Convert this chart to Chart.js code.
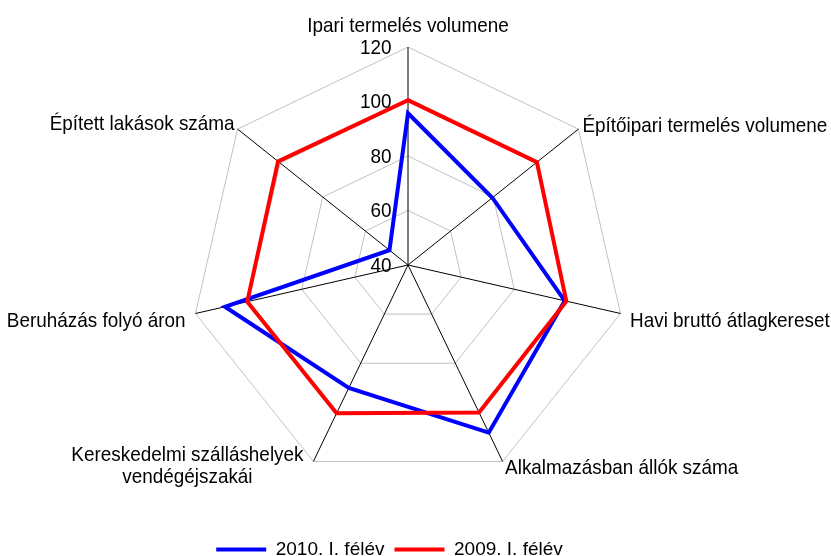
<!DOCTYPE html>
<html>
<head>
<meta charset="utf-8">
<script src="https://cdn.jsdelivr.net/npm/chart.js@4/dist/chart.umd.min.js"></script>
<style>
  html, body { margin: 0; padding: 0; background: #ffffff; }
  #wrap { width: 831px; height: 556px; }
</style>
</head>
<body>
<div id="wrap"><canvas id="c" width="831" height="556"></canvas></div>
<script>
// ---- data ----
const categories = [
  "Ipari termelés volumene",
  "Építőipari termelés volumene",
  "Havi bruttó átlagkereset",
  "Alkalmazásban állók száma",
  ["Kereskedelmi szálláshelyek", "vendégéjszakái"],
  "Beruházás folyó áron",
  "Épített lakások száma"
];
const seriesNames = ["2010. I. félév", "2009. I. félév"];
const series2010 = [95.7, 79.6, 99.0, 108.3, 90.1, 108.9, 48.7];
const series2009 = [100.5, 100.5, 99.6, 100.1, 100.4, 100.5, 101.0];
const tickLabels = [40, 60, 80, 100, 120];

// ---- styling / layout ----
const FONT = "Liberation Sans, Arial, sans-serif";
const LABEL_SIZE = 21;
const SQUEEZE = 0.9;
const labelPlacement = [
  { align: "center", dx: 0,    dy: -15 },
  { align: "left",   dx: 4,    dy: 3 },
  { align: "left",   dx: 9.5,  dy: 13 },
  { align: "left",   dx: 2.5,  dy: 13 },
  { align: "center", dx: -126, dy: -0.7, lh: 22 },
  { align: "right",  dx: -10,  dy: 13 },
  { align: "right",  dx: -3,   dy: 1 }
];

function drawSqueezed(ctx, text, x, y, align) {
  ctx.save();
  ctx.translate(x, y);
  ctx.scale(SQUEEZE, 1);
  ctx.textAlign = align;
  ctx.fillText(text, 0, 0);
  ctx.restore();
}

const labelPlugin = {
  id: "labelPlugin",
  afterDraw(chart) {
    const s = chart.scales.r;
    const ctx = chart.ctx;
    ctx.save();
    ctx.fillStyle = "#000000";
    ctx.font = LABEL_SIZE + "px " + FONT;
    ctx.textBaseline = "alphabetic";
    // point labels
    categories.forEach((lab, i) => {
      const p = s.getPointPosition(i, s.drawingArea);
      const pl = labelPlacement[i];
      const lines = Array.isArray(lab) ? lab : [lab];
      lines.forEach((ln, k) => {
        drawSqueezed(ctx, ln, p.x + pl.dx, p.y + pl.dy + k * (pl.lh || 0), pl.align);
      });
    });
    // tick labels
    ctx.textBaseline = "middle";
    tickLabels.forEach(v => {
      const d = s.getDistanceFromCenterForValue(v);
      drawSqueezed(ctx, String(v), s.xCenter - 16.5, s.yCenter - d + 1, "right");
    });
    ctx.restore();
  }
};

new Chart(document.getElementById("c"), {
  type: "radar",
  data: {
    labels: categories,
    datasets: [
      {
        label: seriesNames[0],
        data: series2010,
        borderColor: "#0000ff",
        backgroundColor: "#0000ff",
        borderWidth: 4,
        fill: false,
        pointRadius: 0,
        pointHoverRadius: 0,
        tension: 0,
        order: 1
      },
      {
        label: seriesNames[1],
        data: series2009,
        borderColor: "#ff0000",
        backgroundColor: "#ff0000",
        borderWidth: 4,
        fill: false,
        pointRadius: 0,
        pointHoverRadius: 0,
        tension: 0,
        order: 0
      }
    ]
  },
  options: {
    responsive: false,
    animation: false,
    devicePixelRatio: 1,
    layout: { padding: { bottom: -13, right: 52 } },
    elements: { line: { borderJoinStyle: "miter" } },
    scales: {
      r: {
        min: tickLabels[0],
        max: tickLabels[tickLabels.length - 1],
        ticks: { stepSize: 20, display: false },
        pointLabels: { display: false },
        grid: { color: "#c0c0c0", lineWidth: 1 },
        angleLines: { color: "#000000", lineWidth: 1 },
        afterFit(scale) {
          scale.xCenter = 408;
          scale.yCenter = 265;
          scale.drawingArea = 218;
        }
      }
    },
    plugins: {
      tooltip: { enabled: false },
      legend: {
        position: "bottom",
        labels: {
          color: "#000000",
          font: { family: FONT, size: 19 },
          boxWidth: 50,
          boxHeight: 4,
          padding: 10,
          sort: (a, b) => a.datasetIndex - b.datasetIndex,
          generateLabels(chart) {
            return Chart.defaults.plugins.legend.labels.generateLabels(chart)
              .map(l => Object.assign(l, { lineWidth: 0 }));
          }
        }
      }
    }
  },
  plugins: [labelPlugin]
});
</script>
</body>
</html>
